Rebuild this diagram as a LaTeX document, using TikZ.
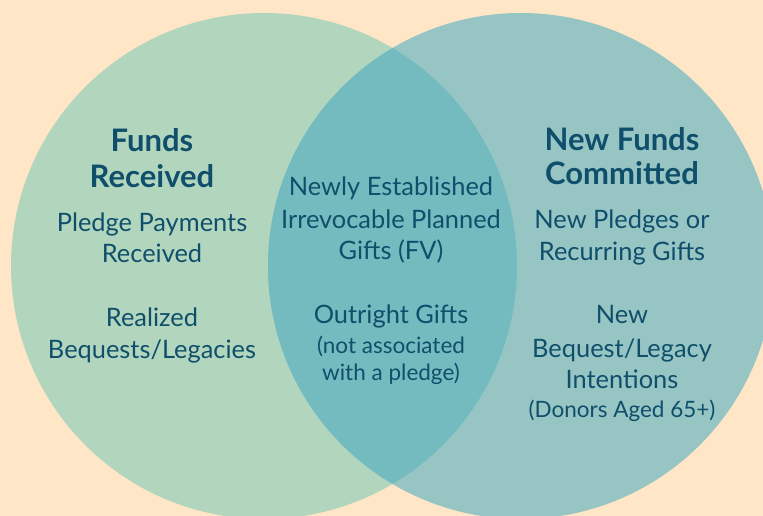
\documentclass[tikz,border=0pt]{standalone}
\usepackage{fontspec}
\setmainfont{Lato}
\definecolor{bg}{HTML}{FEE6C7}
\definecolor{leftc}{HTML}{B2D6BD}
\definecolor{rightc}{HTML}{96C5C4}
\definecolor{midc}{HTML}{74BBC0}
\definecolor{ink}{HTML}{0F4F6B}
\begin{document}
\begin{tikzpicture}[x=1pt,y=-1pt,
  head/.style={anchor=base,inner sep=0pt,text=ink,font=\fontsize{31}{31}\selectfont\bfseries},
  body/.style={anchor=base,inner sep=0pt,text=ink,font=\fontsize{25.4}{25.4}\selectfont},
  small/.style={anchor=base,inner sep=0pt,text=ink,font=\fontsize{22.5}{22.5}\selectfont}]
\fill[bg] (0,0) rectangle (763,516);
\useasboundingbox (0,0) rectangle (763,516);
\coordinate (cl) at (264,266);
\coordinate (cr) at (521,266);
\fill[leftc] (cl) circle[radius=253];
\fill[rightc] (cr) circle[radius=253];
\begin{scope}
\clip (cl) circle[radius=253];
\fill[midc] (cr) circle[radius=253];
\end{scope}
% left
\node[head] (l1) at (152,152) {Funds};
\node[head] (l2) at (152,187) {Received};
\node[body] (l3) at (152,231) {Pledge Payments};
\node[body] (l4) at (152,262) {Received};
\node[body] (l5) at (152,326) {Realized};
\node[body] (l6) at (152,358) {Bequests/Legacies};
% middle
\node[body] (m1) at (391,195) {Newly Established};
\node[body] (m2) at (391,228) {Irrevocable Planned};
\node[body] (m3) at (391,259) {Gifts (FV)};
\node[body] (m4) at (391,323) {Outright Gifts};
\node[small] (m5) at (391,353) {(not associated};
\node[small] (m6) at (391,380) {with a pledge)};
% right
\node[head] (r1) at (622,150) {New Funds};
\node[head] (r2) at (622,184) {Committed};
\node[body] (r3) at (622,228) {New Pledges or};
\node[body] (r4) at (622,260) {Recurring Gifts};
\node[body] (r5) at (622,323) {New};
\node[body] (r6) at (622,357) {Bequest/Legacy};
\node[body] (r7) at (622,388) {Intentions};
\node[small] (r8) at (622,417) {(Donors Aged 65+)};
\end{tikzpicture}
\end{document}
